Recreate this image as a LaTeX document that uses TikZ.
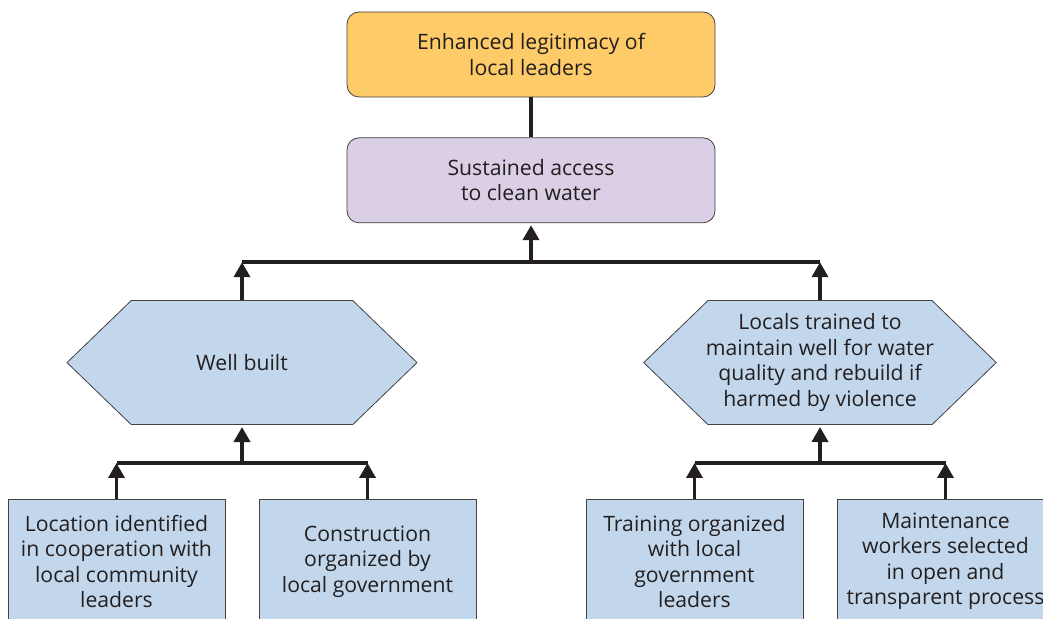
\documentclass[tikz,border=0pt]{standalone}
\usepackage{fontspec}
\setmainfont{Open Sans}
\usepackage{tikz}
\usetikzlibrary{arrows.meta}
\usetikzlibrary{positioning,shapes.symbols}
\definecolor{goalorange}{HTML}{FECB69}
\definecolor{accesslilac}{HTML}{DBCFE5}
\definecolor{stepblue}{HTML}{C3D7EC}
\definecolor{inkgray}{HTML}{231F20}
\tikzset{
  outcome/.style={
    rectangle,
    rounded corners=6pt,
    draw=inkgray!85, thin,
    minimum width=184pt,
    minimum height=42.5pt,
    inner sep=2pt,
    text=inkgray,
    align=center,
    font=\fontsize{10.6}{12.75}\selectfont,
  },
  activity/.style={
    signal, signal to=west and east,
    signal pointer angle=88,
    draw=inkgray!85, thin, fill=stepblue,
    minimum width=175pt,
    minimum height=62pt,
    inner ysep=2pt, inner xsep=-1pt,
    text=inkgray,
    align=center,
    font=\fontsize{10.6}{12.75}\selectfont,
  },
  input/.style={
    rectangle,
    draw=inkgray!85, thin, fill=stepblue,
    minimum width=108.5pt,
    minimum height=62pt,
    inner sep=2pt,
    text=inkgray,
    align=center,
    font=\fontsize{10.6}{12.75}\selectfont,
  },
  link/.style={draw=inkgray, line width=1.8pt},
}

\begin{document}
\begin{tikzpicture}[>={Triangle[width=8pt,length=7.5pt]}]
  \useasboundingbox (0,0) rectangle (521.5pt,-309.5pt);
  % results
  \node[outcome, fill=goalorange] (goal) at (265.5pt,-27.25pt)
    {Enhanced legitimacy of\\local leaders};
  \node[outcome, fill=accesslilac, below=20pt of goal] (access)
    {Sustained access\\to clean water};
  % activities
  \node[activity, below=38.5pt of access, xshift=-144.5pt] (well)
    {Well built};
  \node[activity, below=38.5pt of access, xshift=144.5pt] (train)
    {Locals trained to\\maintain well for water\\quality and rebuild if\\harmed by violence};
  % inputs
  \node[input, below=37pt of well, xshift=-62.75pt] (location)
    {Location identified\\in cooperation with\\local community\\leaders};
  \node[input, below=37pt of well, xshift=62.75pt] (construct)
    {Construction\\organized by\\local government};
  \node[input, below=37pt of train, xshift=-62.75pt] (training)
    {Training organized\\with local\\government\\leaders};
  \node[input, below=37pt of train, xshift=62.75pt] (workers)
    {Maintenance\\workers selected\\in open and\\transparent process};
  % connectors
  \coordinate[below=19.5pt of access] (topbus);
  \coordinate[below=19pt of well] (wellbus);
  \coordinate[below=19pt of train] (trainbus);
  \draw[link] (goal) -- (access);
  \draw[link, ->, shorten >=1pt] (topbus) -- (access);
  \draw[link] (well.north |- topbus) -- (train.north |- topbus);
  \draw[link, ->] (well) -- (well.north |- topbus);
  \draw[link, ->] (train) -- (train.north |- topbus);
  \draw[link, ->, shorten >=1pt] (wellbus) -- (well);
  \draw[link] (location.north |- wellbus) -- (construct.north |- wellbus);
  \draw[link, ->] (location) -- (location.north |- wellbus);
  \draw[link, ->] (construct) -- (construct.north |- wellbus);
  \draw[link, ->, shorten >=1pt] (trainbus) -- (train);
  \draw[link] (training.north |- trainbus) -- (workers.north |- trainbus);
  \draw[link, ->] (training) -- (training.north |- trainbus);
  \draw[link, ->] (workers) -- (workers.north |- trainbus);
\end{tikzpicture}
\end{document}
